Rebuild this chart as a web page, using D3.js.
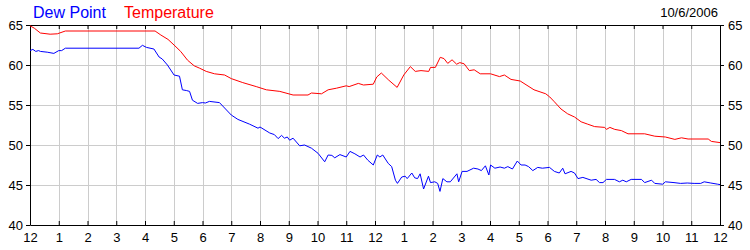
<!DOCTYPE html>
<html>
<head>
<meta charset="utf-8">
<script src="https://cdn.jsdelivr.net/npm/d3@7"></script>
<style>
  body { margin: 0; background: #fff; }
  svg { display: block; font-family: "Liberation Sans", Arial, sans-serif; }
  .axis .domain { stroke: #000; }
  .axis line { stroke: #000; }
  .grid line { stroke: #cccccc; }
</style>
</head>
<body>
<svg id="chart" width="750" height="250"></svg>
<script>
// hours since midnight, deg F
const temperature = [
  [0, 64.9], [0.15, 64.6], [0.36, 64.0], [0.7, 63.85], [0.95, 63.9], [1.23, 64.25],
  [4.35, 64.25], [4.55, 63.75], [4.8, 63.2], [5.01, 62.5], [5.24, 61.7], [5.48, 60.6],
  [5.71, 59.9], [5.9, 59.6], [6.13, 59.2], [6.42, 58.9], [6.77, 58.75], [7.0, 58.3],
  [7.4, 57.8], [7.87, 57.3], [8.22, 56.9], [8.69, 56.7], [9.15, 56.25], [9.67, 56.25],
  [9.79, 56.5], [10.14, 56.4], [10.37, 56.9], [10.66, 57.1], [11.0, 57.4], [11.1, 57.3],
  [11.42, 57.7], [11.6, 57.5], [11.94, 57.6], [12.06, 58.5], [12.22, 59.0], [12.48, 58.1],
  [12.77, 57.2], [13.0, 58.75], [13.23, 59.8], [13.4, 59.2], [13.6, 59.3], [13.87, 59.2],
  [13.93, 59.7], [14.1, 59.7], [14.27, 60.96], [14.4, 60.8], [14.53, 60.2], [14.68, 60.65],
  [14.84, 60.1], [14.95, 60.3], [15.1, 60.15], [15.28, 59.3], [15.45, 59.4], [15.66, 58.9],
  [16.02, 58.9], [16.33, 58.55], [16.5, 58.75], [16.73, 58.2], [17.05, 58.0], [17.53, 56.9],
  [17.94, 56.4], [18.08, 56.0], [18.24, 55.4], [18.47, 54.5], [18.7, 53.9], [18.94, 53.5],
  [19.17, 52.9], [19.4, 52.6], [19.64, 52.3], [19.99, 52.2], [20.05, 51.95], [20.17, 52.2],
  [20.34, 51.95], [20.57, 51.8], [20.8, 51.4], [21.38, 51.4], [21.73, 51.1], [22.1, 51.0],
  [22.43, 50.7], [22.66, 50.9], [22.89, 50.75], [23.59, 50.75], [23.7, 50.45], [24.0, 50.3]
];

const dewPoint = [
  [0, 61.8], [0.1, 61.95], [0.2, 61.7], [0.3, 61.8], [0.36, 61.7], [0.6, 61.6],
  [0.83, 61.45], [1.0, 61.8], [1.1, 61.8], [1.23, 62.1], [3.79, 62.1], [3.91, 62.46],
  [4.05, 62.2], [4.31, 62.0], [4.49, 61.0], [4.6, 60.75], [4.78, 60.0], [5.01, 58.75],
  [5.2, 58.6], [5.3, 56.9], [5.45, 56.8], [5.55, 56.7], [5.65, 55.6], [5.83, 55.2],
  [6.0, 55.3], [6.1, 55.25], [6.24, 55.45], [6.59, 55.3], [7.0, 53.75], [7.23, 53.2],
  [7.64, 52.6], [7.93, 52.1], [8.0, 52.25], [8.34, 51.5], [8.5, 51.3], [8.63, 50.8],
  [8.75, 51.2], [8.85, 50.85], [8.95, 51.0], [9.03, 50.6], [9.15, 50.85], [9.38, 49.9],
  [9.55, 50.0], [9.79, 49.6], [10.02, 48.96], [10.25, 47.9], [10.37, 48.75], [10.5, 48.7],
  [10.6, 48.4], [10.78, 48.8], [11.0, 48.5], [11.13, 49.2], [11.3, 48.9], [11.48, 48.5],
  [11.6, 48.75], [11.75, 48.1], [11.94, 47.5], [12.08, 48.75], [12.17, 48.5], [12.27, 48.75],
  [12.46, 47.7], [12.58, 47.3], [12.71, 45.6], [12.78, 45.2], [12.93, 46.0], [13.05, 46.1],
  [13.12, 45.8], [13.28, 46.5], [13.38, 45.9], [13.48, 45.8], [13.57, 46.4], [13.69, 44.5],
  [13.86, 46.1], [13.93, 45.3], [14.08, 45.4], [14.18, 45.2], [14.26, 44.2], [14.36, 45.8],
  [14.5, 45.4], [14.62, 45.4], [14.85, 46.4], [14.91, 45.4], [15.03, 46.7], [15.2, 46.7],
  [15.43, 47.1], [15.58, 47.0], [15.7, 46.8], [15.84, 47.4], [15.96, 46.25], [16.02, 47.5],
  [16.17, 47.1], [16.35, 47.25], [16.5, 47.1], [16.62, 47.3], [16.78, 47.0], [16.95, 48.0],
  [17.08, 47.5], [17.22, 47.5], [17.34, 47.3], [17.49, 46.8], [17.66, 47.2], [17.82, 47.1],
  [18.07, 47.2], [18.24, 46.7], [18.41, 46.5], [18.53, 47.1], [18.61, 46.4], [18.82, 46.7],
  [18.94, 46.5], [19.06, 45.8], [19.23, 45.95], [19.52, 45.6], [19.69, 45.7], [19.81, 45.3],
  [19.93, 45.3], [20.05, 45.7], [20.33, 45.7], [20.5, 45.4], [20.62, 45.6], [20.74, 45.4],
  [20.91, 45.7], [21.27, 45.7], [21.38, 45.3], [21.62, 45.6], [21.73, 45.2], [22.01, 45.1],
  [22.1, 45.4], [22.4, 45.3], [22.63, 45.2], [22.86, 45.25], [23.1, 45.2], [23.33, 45.2],
  [23.45, 45.4], [23.68, 45.25], [23.92, 45.1], [24.0, 45.05]
];

const hourLabels = ["12", "1", "2", "3", "4", "5", "6", "7", "8", "9", "10", "11",
  "12", "1", "2", "3", "4", "5", "6", "7", "8", "9", "10", "11", "12"];
const yTicks = [40, 45, 50, 55, 60, 65];
const dateLabel = "10/6/2006";

const svg = d3.select("#chart");

const x = d3.scaleLinear().domain([0, 24]).range([30, 720]);
const y = d3.scaleLinear().domain([40, 65]).range([225, 25]);
const hours = d3.range(0, 25);

// grid
svg.append("g")
  .attr("class", "grid")
  .selectAll("line.v")
  .data(hours.slice(1, -1))
  .join("line")
  .attr("x1", d => Math.round(x(d)) + 0.5)
  .attr("x2", d => Math.round(x(d)) + 0.5)
  .attr("y1", y(65))
  .attr("y2", y(40));

svg.append("g")
  .attr("class", "grid")
  .selectAll("line.h")
  .data(yTicks.slice(1, -1))
  .join("line")
  .attr("x1", x(0))
  .attr("x2", x(24))
  .attr("y1", d => y(d) + 0.5)
  .attr("y2", d => y(d) + 0.5);

// axes
const fmtHour = d => hourLabels[d];

svg.append("g")
  .attr("class", "axis")
  .attr("transform", `translate(0,${y(40)})`)
  .call(d3.axisBottom(x).tickValues(hours).tickFormat(fmtHour)
    .tickSizeInner(-4).tickSizeOuter(0).tickPadding(8))
  .selectAll("text").style("font-size", "13px").attr("fill", "#000");

svg.append("g")
  .attr("class", "axis")
  .attr("transform", `translate(0,${y(65)})`)
  .call(d3.axisTop(x).tickValues(hours).tickFormat("")
    .tickSizeInner(-4).tickSizeOuter(0));

svg.append("g")
  .attr("class", "axis")
  .attr("transform", `translate(${x(0)},0)`)
  .call(d3.axisLeft(y).tickValues(yTicks).tickSizeInner(4).tickSizeOuter(0).tickPadding(3))
  .selectAll("text").style("font-size", "13px").attr("fill", "#000");

svg.append("g")
  .attr("class", "axis")
  .attr("transform", `translate(${x(24)},0)`)
  .call(d3.axisRight(y).tickValues(yTicks).tickSizeInner(4).tickSizeOuter(0).tickPadding(4))
  .selectAll("text").style("font-size", "13px").attr("fill", "#000");

svg.selectAll(".axis text").attr("font-family", null);

// lines
const line = d3.line()
  .x(d => x(d[0]))
  .y(d => y(d[1]));

svg.append("path")
  .datum(temperature)
  .attr("fill", "none")
  .attr("stroke", "#ff0000")
  .attr("stroke-width", 1)
  .attr("d", line);

svg.append("path")
  .datum(dewPoint)
  .attr("fill", "none")
  .attr("stroke", "#0000ff")
  .attr("stroke-width", 1)
  .attr("d", line);

// titles
svg.append("text")
  .attr("x", 33)
  .attr("y", 18)
  .attr("fill", "#0000ff")
  .style("font-size", "16px")
  .text("Dew Point");

svg.append("text")
  .attr("x", 124)
  .attr("y", 18)
  .attr("fill", "#ff0000")
  .style("font-size", "16px")
  .text("Temperature");

svg.append("text")
  .attr("x", 718)
  .attr("y", 17)
  .attr("text-anchor", "end")
  .attr("fill", "#000")
  .style("font-size", "13px")
  .text(dateLabel);
</script>
</body>
</html>
